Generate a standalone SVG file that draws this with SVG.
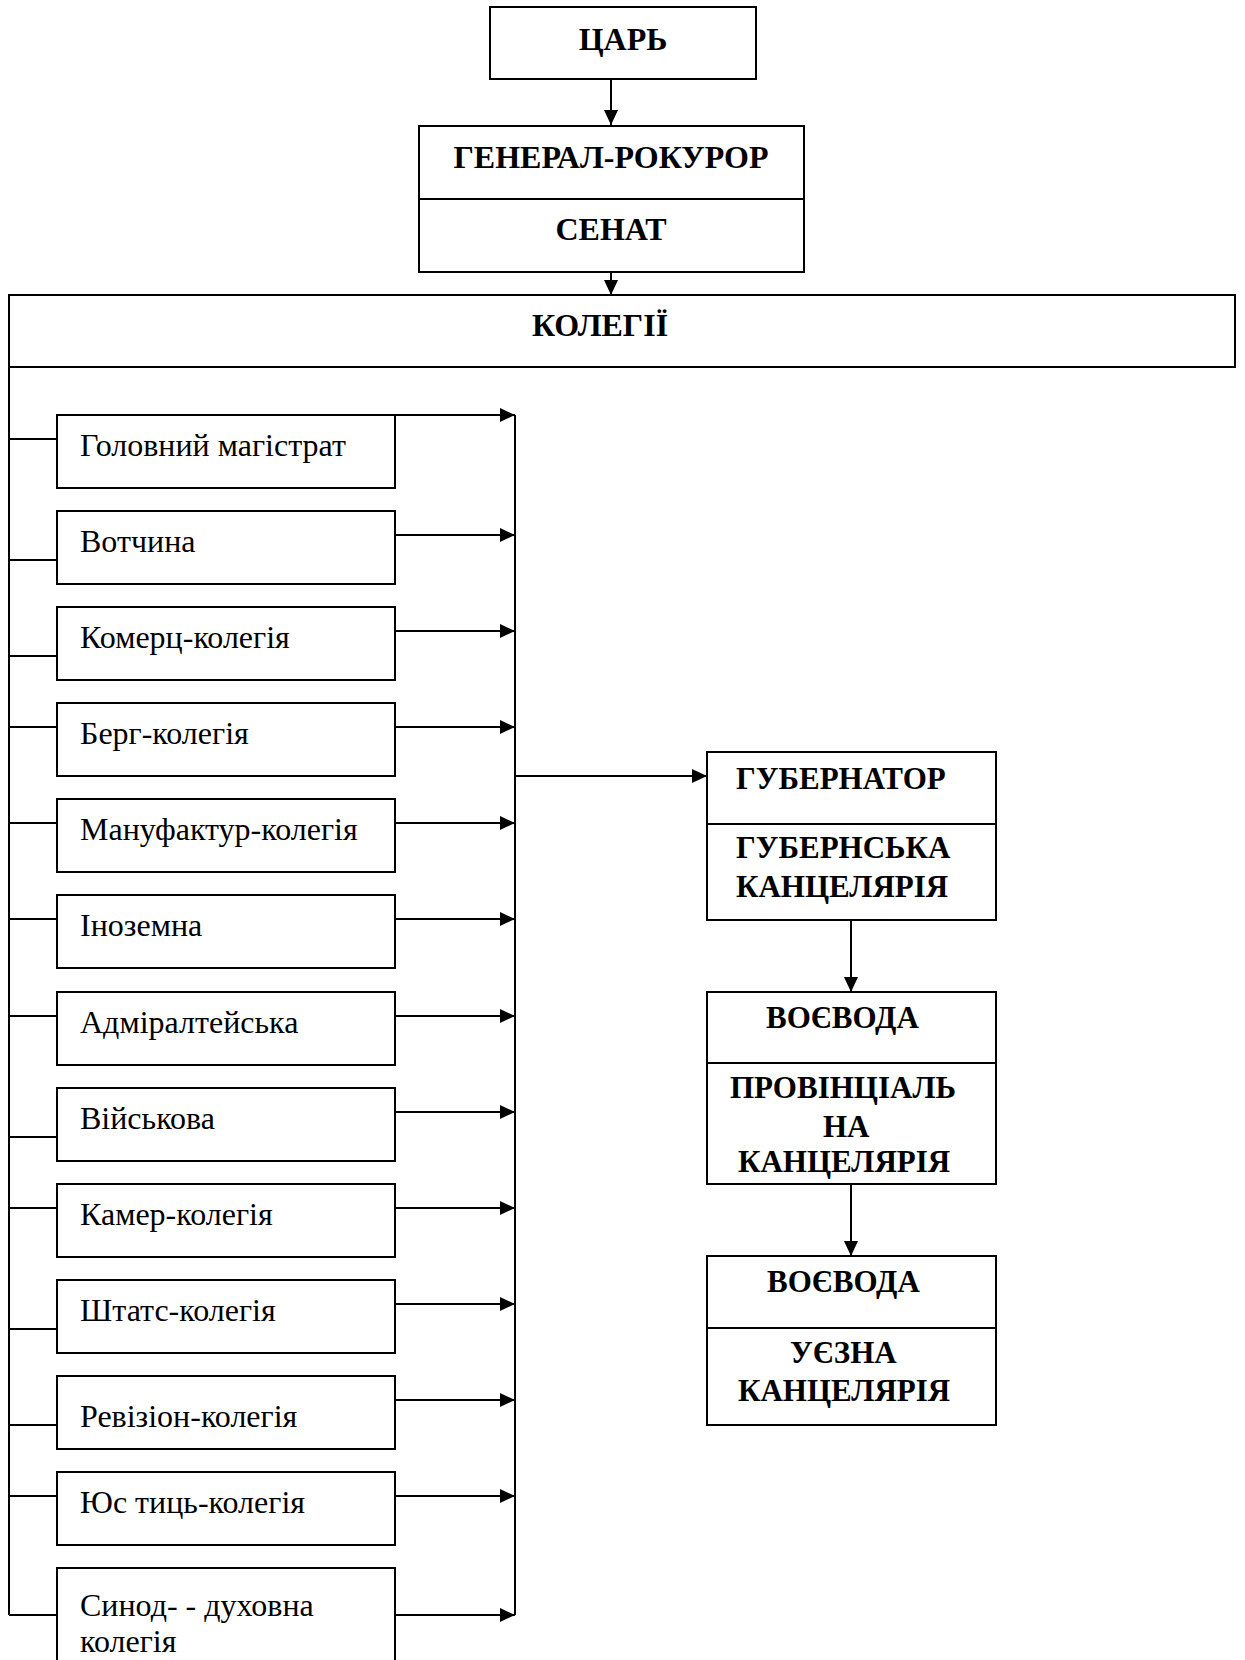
<svg xmlns="http://www.w3.org/2000/svg" width="1245" height="1660" viewBox="0 0 1245 1660">
<defs>
<marker id="ah" markerUnits="userSpaceOnUse" markerWidth="15" markerHeight="14" refX="15" refY="7" orient="auto"><path d="M0,0 L15,7 L0,14 z" fill="#000"/></marker>
</defs>
<style>
.box{fill:#fff;stroke:#000;stroke-width:2}
line{stroke:#000;stroke-width:2}
.b{font-family:"Liberation Serif","Times New Roman",serif;font-weight:bold;font-size:31px;fill:#000}
.t{font-size:32px}
.r{font-family:"Liberation Serif","Times New Roman",serif;font-size:32px;fill:#000}
.c{text-anchor:middle}
.arr{marker-end:url(#ah)}
</style>
<rect x="0" y="0" width="1245" height="1660" fill="#fff"/>
<g id="connectors">
<line class="arr" x1="611" y1="79" x2="611" y2="125"/>
<line class="arr" x1="611" y1="272" x2="611" y2="295"/>
<line x1="9" y1="367" x2="9" y2="1615"/>
<line x1="515" y1="415" x2="515" y2="1615"/>
<line x1="9" y1="439" x2="57" y2="439"/>
<line x1="9" y1="560" x2="57" y2="560"/>
<line x1="9" y1="656" x2="57" y2="656"/>
<line x1="9" y1="727" x2="57" y2="727"/>
<line x1="9" y1="823" x2="57" y2="823"/>
<line x1="9" y1="919" x2="57" y2="919"/>
<line x1="9" y1="1016" x2="57" y2="1016"/>
<line x1="9" y1="1137" x2="57" y2="1137"/>
<line x1="9" y1="1208" x2="57" y2="1208"/>
<line x1="9" y1="1329" x2="57" y2="1329"/>
<line x1="9" y1="1425" x2="57" y2="1425"/>
<line x1="9" y1="1496" x2="57" y2="1496"/>
<line x1="9" y1="1615" x2="57" y2="1615"/>
<line class="arr" x1="395" y1="415" x2="515" y2="415"/>
<line class="arr" x1="395" y1="535" x2="515" y2="535"/>
<line class="arr" x1="395" y1="631" x2="515" y2="631"/>
<line class="arr" x1="395" y1="727" x2="515" y2="727"/>
<line class="arr" x1="395" y1="823" x2="515" y2="823"/>
<line class="arr" x1="395" y1="919" x2="515" y2="919"/>
<line class="arr" x1="395" y1="1016" x2="515" y2="1016"/>
<line class="arr" x1="395" y1="1112" x2="515" y2="1112"/>
<line class="arr" x1="395" y1="1208" x2="515" y2="1208"/>
<line class="arr" x1="395" y1="1304" x2="515" y2="1304"/>
<line class="arr" x1="395" y1="1400" x2="515" y2="1400"/>
<line class="arr" x1="395" y1="1496" x2="515" y2="1496"/>
<line class="arr" x1="395" y1="1615" x2="515" y2="1615"/>
<line class="arr" x1="515" y1="776" x2="707" y2="776"/>
<line class="arr" x1="851" y1="920" x2="851" y2="992"/>
<line class="arr" x1="851" y1="1184" x2="851" y2="1256"/>
</g>
<g id="tsar"><rect class="box" x="490" y="7" width="266" height="72"/><text class="b t c" x="623" y="50">ЦАРЬ</text></g>
<g id="senate"><rect class="box" x="419" y="126" width="385" height="146"/><line x1="419" y1="199" x2="804" y2="199"/><text class="b t c" x="611" y="168">ГЕНЕРАЛ-РОКУРОР</text><text class="b t c" x="611" y="240">СЕНАТ</text></g>
<g id="kolegii"><rect class="box" x="9" y="295" width="1226" height="72"/><text class="b t c" x="600" y="336">КОЛЕГІЇ</text></g>
<g id="k1"><rect class="box" x="57" y="415" width="338" height="73"/><text class="r" x="80" y="456">Головний магістрат</text></g>
<g id="k2"><rect class="box" x="57" y="511" width="338" height="73"/><text class="r" x="80" y="552">Вотчина</text></g>
<g id="k3"><rect class="box" x="57" y="607" width="338" height="73"/><text class="r" x="80" y="648">Комерц-колегія</text></g>
<g id="k4"><rect class="box" x="57" y="703" width="338" height="73"/><text class="r" x="80" y="744">Берг-колегія</text></g>
<g id="k5"><rect class="box" x="57" y="799" width="338" height="73"/><text class="r" x="80" y="840">Мануфактур-колегія</text></g>
<g id="k6"><rect class="box" x="57" y="895" width="338" height="73"/><text class="r" x="80" y="936">Іноземна</text></g>
<g id="k7"><rect class="box" x="57" y="992" width="338" height="73"/><text class="r" x="80" y="1033">Адміралтейська</text></g>
<g id="k8"><rect class="box" x="57" y="1088" width="338" height="73"/><text class="r" x="80" y="1129">Військова</text></g>
<g id="k9"><rect class="box" x="57" y="1184" width="338" height="73"/><text class="r" x="80" y="1225">Камер-колегія</text></g>
<g id="k10"><rect class="box" x="57" y="1280" width="338" height="73"/><text class="r" x="80" y="1321">Штатс-колегія</text></g>
<g id="k11"><rect class="box" x="57" y="1376" width="338" height="73"/><text class="r" x="80" y="1427">Ревізіон-колегія</text></g>
<g id="k12"><rect class="box" x="57" y="1472" width="338" height="73"/><text class="r" x="80" y="1513">Юс тиць-колегія</text></g>
<g id="k13"><rect class="box" x="57" y="1568" width="338" height="120"/><text class="r" x="80" y="1616">Синод- - духовна</text><text class="r" x="80" y="1652">колегія</text></g>
<g id="gubernator"><rect class="box" x="707" y="752" width="289" height="168"/><line x1="707" y1="824" x2="996" y2="824"/><text class="b" x="736" y="789">ГУБЕРНАТОР</text><text class="b" x="736" y="858">ГУБЕРНСЬКА</text><text class="b" x="736" y="897">КАНЦЕЛЯРІЯ</text></g>
<g id="voevoda1"><rect class="box" x="707" y="992" width="289" height="192"/><line x1="707" y1="1063" x2="996" y2="1063"/><text class="b" x="766" y="1028">ВОЄВОДА</text><text class="b" x="730" y="1098">ПРОВІНЦІАЛЬ</text><text class="b" x="823" y="1137">НА</text><text class="b" x="738" y="1172">КАНЦЕЛЯРІЯ</text></g>
<g id="voevoda2"><rect class="box" x="707" y="1256" width="289" height="169"/><line x1="707" y1="1328" x2="996" y2="1328"/><text class="b" x="767" y="1292">ВОЄВОДА</text><text class="b" x="790" y="1363">УЄЗНА</text><text class="b" x="738" y="1401">КАНЦЕЛЯРІЯ</text></g>
</svg>
